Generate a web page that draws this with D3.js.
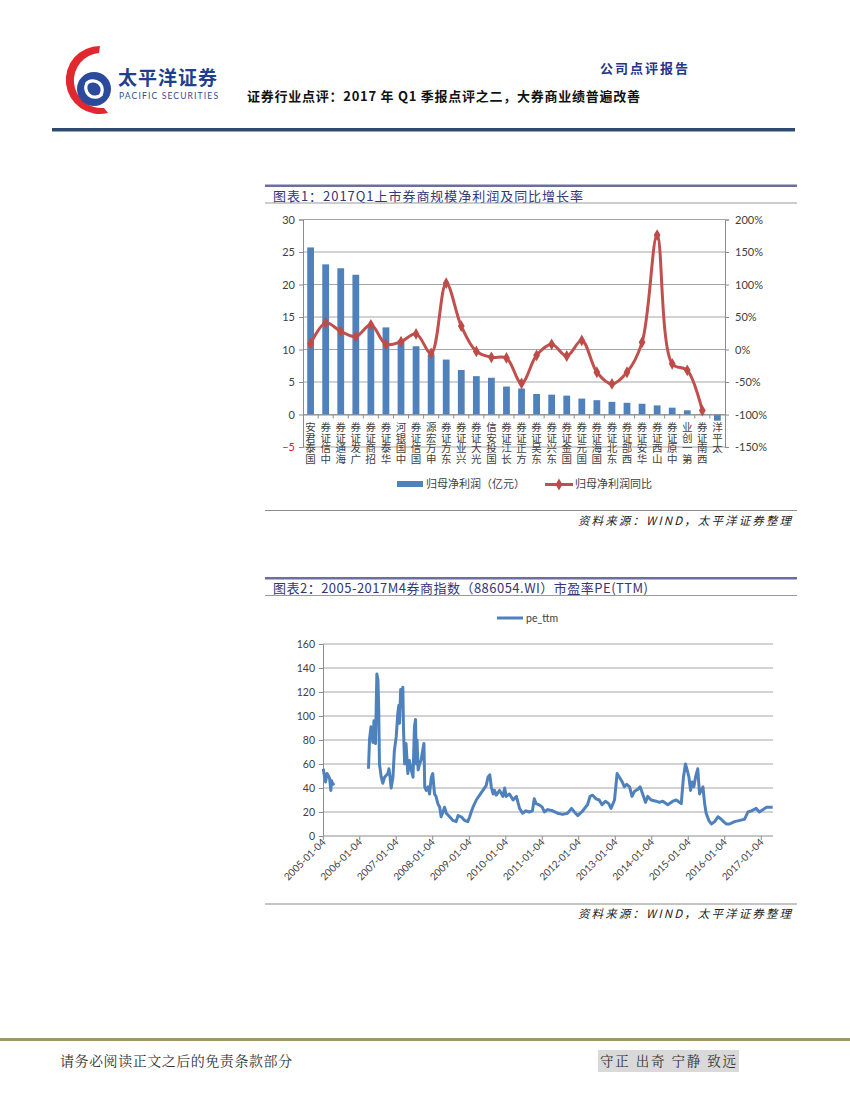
<!DOCTYPE html>
<html><head><meta charset="utf-8">
<script src="https://cdn.jsdelivr.net/npm/d3@7/dist/d3.min.js"></script>
<style>
body{margin:0;background:#fff;}
svg{display:block;}
</style></head>
<body>
<svg id="page" width="850" height="1100"></svg>
<script>
// ---------------- DATA ----------------
const brokers = ["国泰君安","中信证券","海通证券","广发证券","招商证券","华泰证券","中国银河","国信证券","申万宏源","东方证券","兴业证券","光大证券","国投安信","长江证券","方正证券","东吴证券","东兴证券","国金证券","国元证券","国海证券","东北证券","西部证券","华安证券","山西证券","中原证券","第一创业","西南证券","太平洋"];
const netProfit = [25.7,23.1,22.5,21.5,13.8,13.4,11.4,10.5,9.2,8.45,6.85,5.9,5.65,4.3,4.0,3.15,3.05,2.9,2.45,2.2,1.95,1.8,1.65,1.4,1.05,0.65,0.1,-0.95];
const profitYoY = [9,41,28,20,38,8,12,24,-6,102,36,-3,-12,-13,-52,-9,8,-10,14,-35,-53,-35,11,176,-22,-32,-94,null];
const leftTicks = [-5,0,5,10,15,20,25,30];
const rightTicks = [-150,-100,-50,0,50,100,150,200];

const peDates = ["2005-01-04","2005-01-15","2005-01-27","2005-02-10","2005-02-25","2005-03-08","2005-03-20","2005-03-28","2005-04-10","2005-04-25","2005-05-01",
"2006-04-01","2006-04-12","2006-04-26","2006-05-15","2006-05-26","2006-06-10","2006-06-24","2006-07-05","2006-07-12","2006-07-20","2006-08-07","2006-08-22","2006-09-09","2006-10-12","2006-10-23","2006-11-03","2006-11-14","2006-12-02","2006-12-16",
"2007-01-04","2007-01-19","2007-01-30","2007-02-06","2007-02-17","2007-02-28","2007-03-11","2007-03-18","2007-03-29","2007-04-12","2007-04-30","2007-05-15","2007-06-03","2007-06-21","2007-07-05","2007-07-16","2007-07-23","2007-07-31","2007-08-11","2007-08-25","2007-09-09","2007-09-27","2007-10-08","2007-10-16","2007-10-31","2007-11-18","2007-12-03","2007-12-21",
"2008-01-04","2008-01-22","2008-02-06","2008-02-24","2008-03-14","2008-03-28","2008-04-16","2008-05-01","2008-05-19","2008-06-21","2008-07-24","2008-08-26","2008-09-13","2008-10-16","2008-11-18","2008-12-20",
"2009-01-08","2009-01-23","2009-02-10","2009-03-15","2009-04-17","2009-05-20","2009-06-22","2009-07-10","2009-07-28","2009-08-12","2009-08-30","2009-09-13","2009-10-01","2009-11-03","2009-12-06","2009-12-24",
"2010-01-08","2010-02-10","2010-03-18","2010-04-20","2010-05-22","2010-06-21","2010-07-24","2010-08-26","2010-09-28","2010-10-16","2010-11-03","2010-12-05",
"2011-01-04","2011-01-25","2011-02-28","2011-04-17","2011-06-06","2011-07-27","2011-09-14","2011-10-24","2011-11-22","2011-12-25",
"2012-02-13","2012-04-01","2012-04-26","2012-05-22","2012-06-24","2012-07-27","2012-08-24","2012-09-27","2012-10-30","2012-11-22","2012-12-27",
"2013-01-22","2013-02-14","2013-03-15","2013-04-05","2013-04-28","2013-05-27","2013-06-20","2013-07-13","2013-08-18","2013-09-09","2013-10-05","2013-11-02","2013-11-25","2013-12-28",
"2014-02-17","2014-03-22","2014-04-24","2014-06-13","2014-08-03","2014-09-06","2014-10-26","2014-11-17","2014-12-07","2014-12-24",
"2015-01-11","2015-01-27","2015-02-13","2015-03-01","2015-03-18","2015-04-09","2015-04-27","2015-05-13","2015-05-31","2015-06-17","2015-07-02","2015-07-29","2015-08-23","2015-09-25","2015-10-28","2015-11-30","2015-12-24",
"2016-01-19","2016-02-21","2016-04-12","2016-06-02","2016-07-21","2016-08-23","2016-09-27","2016-11-14","2016-12-16",
"2017-01-22","2017-02-24","2017-04-17","2017-04-28"];
const peValues = [56,50,45,52,50,48,38,46,43,44,null,
56,81,91,78,96,77,135,130,108,60,49,44,49,52,56,49,40,49,71,
83,102,109,94,122,108,124,88,60,77,52,63,55,49,91,97,60,80,55,60,63,72,77,41,38,41,35,49,
52,35,33,27,24,16,20,24,19,16,13,12,17,16,13,12,
16,20,24,30,34,38,42,49,51,41,35,38,34,38,33,40,
33,35,30,33,23,19,21,20,21,31,27,26,
24,20,22,21,19,18,19,23,20,17,
21,26,33,34,31,30,26,29,27,23,30,
52,49,45,41,43,41,33,37,39,41,35,28,33,30,
29,28,29,26,29,30,27,49,60,55,
49,38,45,41,49,56,35,38,41,27,19,13,10,12,16,14,12,
10,10,12,13,14,20,21,23,20,
22,24,24,24];
const peTickDates = ["2005-01-04","2006-01-04","2007-01-04","2008-01-04","2009-01-04","2010-01-04","2011-01-04","2012-01-04","2013-01-04","2014-01-04","2015-01-04","2016-01-04","2017-01-04"];
const peYTicks = [0,20,40,60,80,100,120,140,160];

// ---------------- PAGE ----------------
const svg = d3.select("#page");
svg.append("rect").attr("width",850).attr("height",1100).attr("fill","#fff");
const CJK = "'Noto Sans CJK SC','Noto Sans',sans-serif";
const SERIF = "'Noto Serif CJK SC','Noto Sans CJK SC',serif";
const LAT = "Lato,'Open Sans','Liberation Sans',sans-serif";

// Header: logo
const logo = svg.append("g");
logo.append("path").attr("d","M100,46 A34,34 0 1,0 108,113 L104,108 A27,27 0 1,1 99,53 Z").attr("fill","#e0282e");
logo.append("circle").attr("cx",94).attr("cy",89).attr("r",17).attr("fill","#2b4a9b");
logo.append("path").attr("d","M86,84 A9,9 0 1,1 100,96 M102,94 A9,9 0 1,1 88,82").attr("fill","none").attr("stroke","#fff").attr("stroke-width",3.2);
svg.append("text").attr("x",118).attr("y",85).attr("font-family",CJK).attr("font-weight",700).attr("font-size",19)
  .attr("fill","#1f3f8f").attr("textLength",99).text("太平洋证券");
svg.append("text").attr("x",119).attr("y",99).attr("font-family",LAT).attr("font-size",8.5)
  .attr("fill","#2f4c8f").attr("textLength",99).text("PACIFIC SECURITIES");
svg.append("text").attr("x",600).attr("y",73).attr("font-family",CJK).attr("font-weight",700).attr("font-size",13)
  .attr("fill","#27348b").attr("textLength",88).text("公司点评报告");
svg.append("text").attr("x",247).attr("y",101).attr("font-family",CJK).attr("font-weight",700).attr("font-size",13)
  .attr("fill","#111").attr("textLength",393).text("证券行业点评：2017 年 Q1 季报点评之二，大券商业绩普遍改善");
svg.append("rect").attr("x",52).attr("y",128).attr("width",743).attr("height",3.5).attr("fill","#2e4a70");

// Footer
svg.append("rect").attr("x",0).attr("y",1038).attr("width",850).attr("height",3).attr("fill","#9c9668");
svg.append("text").attr("x",60).attr("y",1066).attr("font-family",SERIF).attr("font-size",14)
  .attr("fill","#333").attr("textLength",232).text("请务必阅读正文之后的免责条款部分");
svg.append("rect").attr("x",598).attr("y",1050).attr("width",141).attr("height",22).attr("fill","#d9d9d9");
svg.append("text").attr("x",600).attr("y",1066).attr("font-family",SERIF).attr("font-size",13.5)
  .attr("fill","#333").attr("textLength",136).text("守正 出奇 宁静 致远");

// Chart frames
function frame(yTop, title, titleLen, yBottom){
  svg.append("rect").attr("x",265).attr("y",yTop).attr("width",532).attr("height",2.5).attr("fill","#6e6e9e");
  svg.append("text").attr("x",273).attr("y",yTop+16).attr("font-family",CJK).attr("font-size",13)
    .attr("fill","#35357a").attr("textLength",titleLen).text(title);
  svg.append("line").attr("x1",265).attr("x2",797).attr("y1",yTop+18.5).attr("y2",yTop+18.5).attr("stroke","#9a9a9a").attr("stroke-width",1);
  svg.append("line").attr("x1",265).attr("x2",797).attr("y1",yBottom).attr("y2",yBottom).attr("stroke","#8a8a8a").attr("stroke-width",1);
  svg.append("text").attr("x",791).attr("y",yBottom+14).attr("text-anchor","end").attr("font-family",CJK).attr("font-size",11.5)
    .attr("font-style","italic").attr("fill","#222").attr("textLength",213).text("资料来源：WIND，太平洋证券整理");
}
frame(184.5,"图表1：2017Q1上市券商规模净利润及同比增长率",310,510.5);
frame(577,"图表2：2005-2017M4券商指数（886054.WI）市盈率PE(TTM)",375,904);

// ---------------- CHART 1 ----------------
const c1 = svg.append("g");
const x1 = d3.scaleBand().domain(brokers).range([303,725]).paddingInner(0.55).paddingOuter(0.28);
const yL = d3.scaleLinear().domain([-5,30]).range([447,219.5]);
const yR = d3.scaleLinear().domain([-150,200]).range([447,219.5]);

c1.append("g").selectAll("line").data(leftTicks).join("line")
  .attr("x1",303).attr("x2",725).attr("y1",d=>yL(d)).attr("y2",d=>yL(d))
  .attr("stroke","#a6a6a6").attr("stroke-width",1);

c1.append("g").selectAll("rect").data(netProfit).join("rect")
  .attr("x",(d,i)=>x1(brokers[i])).attr("width",x1.bandwidth())
  .attr("y",d=>yL(Math.max(0,d))).attr("height",d=>Math.abs(yL(d)-yL(0)))
  .attr("fill","#4f81bd");

// axes
const axL = c1.append("g").attr("transform","translate(303,0)")
  .call(d3.axisLeft(yL).tickValues(leftTicks).tickSize(4).tickPadding(4));
axL.selectAll("text").attr("font-family",LAT).attr("font-size",11).attr("fill",d=>d<0?"#e02020":"#404040");
const axR = c1.append("g").attr("transform","translate(725,0)")
  .call(d3.axisRight(yR).tickValues(rightTicks).tickSize(4).tickPadding(6).tickFormat(d=>d+"%"));
axR.selectAll("text").attr("font-family",LAT).attr("font-size",11).attr("fill","#404040");
[axL,axR].forEach(a=>{a.select(".domain").attr("stroke","#8c8c8c");a.selectAll(".tick line").attr("stroke","#8c8c8c");});
// category axis at zero
const axB = c1.append("g").attr("transform",`translate(0,${yL(0)})`)
  .call(d3.axisBottom(x1).tickSize(0).tickFormat(""));
axB.select(".domain").attr("stroke","#8c8c8c");
c1.append("g").selectAll("line").data(brokers.slice(1)).join("line")
  .attr("x1",d=>x1(d)-x1.step()*x1.paddingInner()/2).attr("x2",d=>x1(d)-x1.step()*x1.paddingInner()/2)
  .attr("y1",yL(0)).attr("y2",yL(0)+4).attr("stroke","#8c8c8c");
// stacked labels (reads bottom to top, upright characters, top-aligned under the axis)
const PITCH = 10.6;
const lab = c1.append("g").selectAll("text").data(brokers).join("text")
  .attr("font-family",CJK).attr("font-size",10.5).attr("fill","#404040").attr("text-anchor","middle");
lab.each(function(d){
  const t=d3.select(this); const cx=x1(d)+x1.bandwidth()/2; const ch=Array.from(d); const n=ch.length;
  ch.forEach((c,k)=>{ t.append("tspan").attr("x",cx).attr("y",yL(0)+16.5+(n-1-k)*PITCH).text(c); });
});

// line
const lineData = profitYoY.map((v,i)=>({k:brokers[i],v}));
const line1 = d3.line().defined(d=>d.v!=null).x(d=>x1(d.k)+x1.bandwidth()/2).y(d=>yR(d.v)).curve(d3.curveCatmullRom.alpha(0.5));
c1.append("path").datum(lineData).attr("d",line1).attr("fill","none").attr("stroke","#c0504d").attr("stroke-width",3);
const diamond = d3.symbol().type(d3.symbolDiamond).size(40);
c1.append("g").selectAll("path").data(lineData.filter(d=>d.v!=null)).join("path")
  .attr("d",diamond).attr("transform",d=>`translate(${x1(d.k)+x1.bandwidth()/2},${yR(d.v)})`).attr("fill","#be4b48");

// legend
c1.append("rect").attr("x",397).attr("y",481).attr("width",26).attr("height",6).attr("fill","#4f81bd");
c1.append("text").attr("x",426).attr("y",488).attr("font-family",CJK).attr("font-size",11).attr("fill","#404040").text("归母净利润（亿元）");
c1.append("line").attr("x1",545).attr("x2",573).attr("y1",484.5).attr("y2",484.5).attr("stroke","#c0504d").attr("stroke-width",3);
c1.append("path").attr("d",diamond).attr("transform","translate(559,484.5)").attr("fill","#be4b48");
c1.append("text").attr("x",575).attr("y",488).attr("font-family",CJK).attr("font-size",11).attr("fill","#404040").text("归母净利润同比");

// ---------------- CHART 2 ----------------
const c2 = svg.append("g");
const parse = d3.timeParse("%Y-%m-%d");
const x2 = d3.scaleTime().domain([parse("2005-01-04"),parse("2017-01-04")]).range([323.3,761.3]);
const y2 = d3.scaleLinear().domain([0,160]).range([836,644]);
c2.append("g").selectAll("line").data(peYTicks.slice(1)).join("line")
  .attr("x1",323).attr("x2",773).attr("y1",d=>y2(d)).attr("y2",d=>y2(d)).attr("stroke","#a6a6a6");
const ay2 = c2.append("g").attr("transform","translate(323,0)").call(d3.axisLeft(y2).tickValues(peYTicks).tickSize(4).tickPadding(4));
ay2.selectAll("text").attr("font-family",LAT).attr("font-size",10.5).attr("fill","#404040");
ay2.select(".domain").attr("stroke","#8c8c8c"); ay2.selectAll(".tick line").attr("stroke","#8c8c8c");
c2.append("line").attr("x1",323).attr("x2",773).attr("y1",836).attr("y2",836).attr("stroke","#8c8c8c");
const tdates = peTickDates.map(parse);
c2.append("g").selectAll("line").data(tdates).join("line")
  .attr("x1",d=>x2(d)).attr("x2",d=>x2(d)).attr("y1",836).attr("y2",840).attr("stroke","#8c8c8c");
c2.append("g").selectAll("text").data(peTickDates).join("text")
  .attr("transform",d=>`translate(${x2(parse(d))+3},${843}) rotate(-45)`)
  .attr("text-anchor","end").attr("font-family",LAT).attr("font-size",10).attr("fill","#404040").text(d=>d);
const peData = peDates.map((d,i)=>({d:parse(d),v:peValues[i]}));
const line2 = d3.line().defined(d=>d.v!=null).x(d=>x2(d.d)).y(d=>y2(d.v));
c2.append("path").datum(peData).attr("d",line2).attr("fill","none").attr("stroke","#4f81bd").attr("stroke-width",3).attr("stroke-linejoin","round");
// legend
c2.append("line").attr("x1",497).attr("x2",523).attr("y1",618).attr("y2",618).attr("stroke","#4f81bd").attr("stroke-width",3);
c2.append("text").attr("x",526).attr("y",622).attr("font-family",LAT).attr("font-size",10.5).attr("fill","#404040").text("pe_ttm");
</script>
</body></html>
